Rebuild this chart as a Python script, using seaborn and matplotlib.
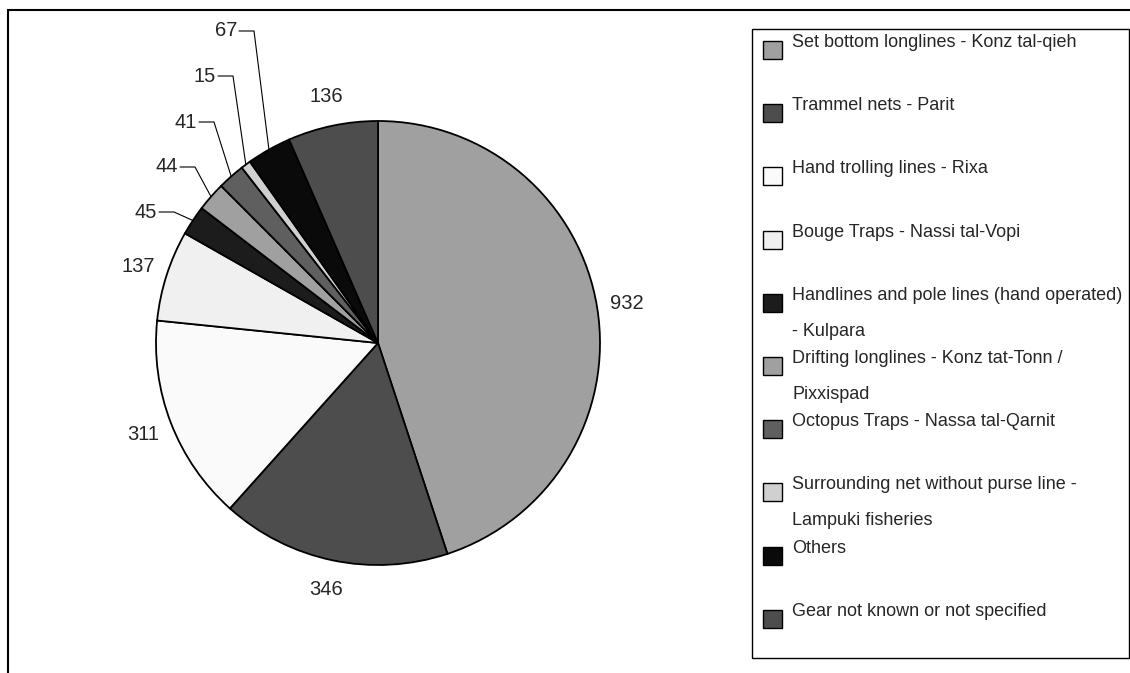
import numpy as np
import matplotlib.pyplot as plt
from matplotlib.patches import Rectangle
import seaborn as sns

# data
gears = ['Set bottom longlines - Konz tal-qieh',
         'Trammel nets - Parit',
         'Hand trolling lines - Rixa',
         'Bouge Traps - Nassi tal-Vopi',
         'Handlines and pole lines (hand operated)\n- Kulpara',
         'Drifting longlines - Konz tat-Tonn /\nPixxispad',
         'Octopus Traps - Nassa tal-Qarnit',
         'Surrounding net without purse line -\nLampuki fisheries',
         'Others',
         'Gear not known or not specified']
counts = [932, 346, 311, 137, 45, 44, 41, 15, 67, 136]
greys = ['#a0a0a0', '#4d4d4d', '#fafafa', '#f0f0f0', '#1c1c1c',
         '#a0a0a0', '#5f5f5f', '#d0d0d0', '#0a0a0a', '#4d4d4d']

# small slices get their label pulled out with a leader line (right end of text, px)
callouts = {4: (157, 212), 5: (178, 167), 6: (197, 122), 7: (216, 76), 8: (237, 31)}

sns.set_style('white')
plt.rcParams['font.family'] = ['Liberation Sans', 'DejaVu Sans']

fig = plt.figure(figsize=(11.3, 6.73), dpi=100)
ax = fig.add_axes([0, 0, 1, 1])

cx, cy, r = 378, 343, 222
wedges, _ = ax.pie(counts, colors=greys, center=(cx, cy), radius=r,
                   startangle=-90, counterclock=True,
                   wedgeprops=dict(edgecolor='black', linewidth=1.3))
ax.set_xlim(0, 1130)
ax.set_ylim(673, 0)
ax.axis('off')

for i, w in enumerate(wedges):
    mid = np.deg2rad((w.theta1 + w.theta2) / 2)
    if i in callouts:
        tx, ty = callouts[i]
        ex, ey = cx + r * np.cos(mid), cy + r * np.sin(mid)
        ax.plot([tx + 2, tx + 17, ex], [ty, ty, ey], color='black', lw=0.8)
        ax.text(tx, ty, str(counts[i]), ha='right', va='center', fontsize=14.5)
    else:
        lx, ly = cx + 1.135 * r * np.cos(mid), cy + 1.135 * r * np.sin(mid)
        ax.text(lx, ly, str(counts[i]), ha='center', va='center', fontsize=14.5)

# outer frame (only top and left visible)
ax.plot([8, 1130], [10, 10], color='black', lw=1.5, clip_on=False)
ax.plot([8, 8], [10, 673], color='black', lw=1.5, clip_on=False)

# legend drawn by hand to keep the original spacing
ax.add_patch(Rectangle((752, 29), 377, 629, fill=False, edgecolor='black', lw=1))
for i, (name, col) in enumerate(zip(gears, greys)):
    base = 47 + i * 63.2
    ax.add_patch(Rectangle((763, base - 6), 19, 18, facecolor=col, edgecolor='black', lw=1))
    for k, line in enumerate(name.split('\n')):
        ax.text(792, base + k * 36, line, ha='left', va='baseline', fontsize=13)

plt.savefig('out.png', dpi=100)
plt.close()
